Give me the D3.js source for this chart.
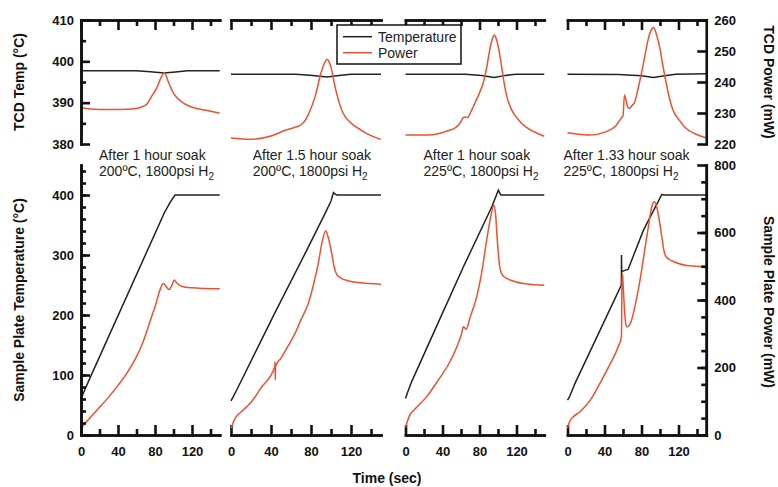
<!DOCTYPE html>
<meta charset="utf-8">
<style>
body { margin: 0; background: #fff; }
svg { font-family: "Liberation Sans", Arial, sans-serif; }
.axis .domain { stroke: #111; stroke-width: 2.6px; stroke-linecap: square; }
.axis .tick line { stroke: #111; stroke-width: 2.6px; }
.axis text { font-family: "Liberation Sans", Arial, sans-serif; font-size: 13px; font-weight: bold; fill: #111; }
.axis-title { font-size: 14px; font-weight: bold; fill: #111; }
.temp { stroke: #222; stroke-width: 1.5px; fill: none; }
.power { stroke: #ef5030; stroke-width: 1.5px; fill: none; }
.note { font-size: 14px; fill: #222; }
.legend text { font-size: 14px; fill: #222; }
</style>

<svg width="778" height="487"></svg>

<script src="https://cdn.jsdelivr.net/npm/d3@7"></script>
<script>

// soak conditions for the four runs
var soakTime = ["After 1 hour soak", "After 1.5 hour soak", "After 1 hour soak", "After 1.33 hour soak"];
var soakCond = ["200ºC, 1800psi H", "200ºC, 1800psi H", "225ºC, 1800psi H", "225ºC, 1800psi H"];
var noteT = [19.5, 21.7, 19.5, -4.3];   // where the note starts, in seconds

// TCD temperature (°C) vs time (sec)
var tcdTemp = [
  [[0,397.7],[60,397.7],[75,397.5],[90,397.2],[105,397.5],[115,397.7],[150,397.7]],
  [[0,396.9],[65,396.9],[82,396.6],[96,396.2],[108,396.6],[120,396.9],[150,396.9]],
  [[0,396.9],[65,396.9],[82,396.6],[96,396.1],[108,396.6],[120,396.9],[150,396.9]],
  [[0,396.9],[55,396.8],[65,396.7],[80,396.5],[93,396.1],[105,396.5],[117,396.9],[150,397.0]]
];

// TCD power (mW)
var tcdPower = [
  [[0,231.8],[10,231.3],[30,231.1],[55,231.3],[64,231.8],[71,232.8],[76,235.2],[81.8,238],[87,241.7],[90,243],[94.4,240.1],[100,236.4],[104,234.8],[108.8,233.6],[115,232.5],[121,231.8],[135,230.9],[148,230.1],[150,230.0]],
  [[0,221.9],[20,221.5],[40,222.6],[55,224.5],[65,225.5],[70,226.2],[75,228],[78,230],[84,235.2],[90,242.9],[94,246.5],[96,247.3],[98,246.5],[100,244.8],[104,238.5],[108,233.5],[112,230],[120,226.8],[130,224.5],[140,222.7],[150,221.5]],
  [[0,222.9],[25,222.9],[45,224.2],[55,225.5],[60,227.2],[62,228.4],[65,228.7],[67,228.5],[70,230],[75,233.2],[80,236.5],[84,239.7],[88,245],[91,250.3],[94,254],[96,255.2],[98,254],[101,250.3],[104,244.8],[107,239],[110,234.8],[114,231.5],[118,229.4],[124,227.2],[130,225.5],[140,223.8],[150,222.5]],
  [[0,223.6],[10,223.2],[24,222.9],[42,224],[52,225.8],[58,228.3],[60,229.2],[61.6,235.8],[63,234.5],[65,232],[67,231.5],[70,232.5],[72,233.1],[76,237.5],[80,242.9],[84,249],[87,253.5],[90,256.5],[93,257.6],[96,255.5],[99.5,251.4],[103,245.5],[106.7,239.6],[110,235],[114,231],[120,228],[128,225.1],[138,223.3],[148,222.2],[150,222.1]]
];

// sample plate temperature (°C)
var plateTemp = [
  [[0,58],[2,68],[10,96],[90,370],[96,387],[101.6,400],[150,400]],
  [[0,57],[2,63],[5.7,75],[44,204],[77.3,313],[94,369],[100,390],[102.5,404],[104.5,401],[106,400],[150,400]],
  [[0,61],[2,70],[6.7,89],[35,186],[62.5,280],[93.2,380],[100.4,408],[103,400],[150,400]],
  [[0,58],[2,63],[8.1,86],[35,174],[58.2,250],[58.4,300],[58.6,272],[61,274],[65.5,276],[82,341],[102,401],[104,400],[150,400]]
];

// sample plate power (mW)
var platePower = [
  [[0,18],[1.5,24],[10,52],[20,82],[30,113],[40,147],[50,185],[60,232],[66,268],[71,306],[76,348],[80,380],[85.4,430],[89,449],[92,440],[95,431],[98,442],[100.9,459],[103,452],[108.8,441],[120,436],[135,434],[150,433]],
  [[0,20],[2,35],[4,49],[10,68],[20.7,99],[30,140],[43.8,202],[44,217],[44.3,163],[44.6,204],[50,228],[57,263],[64,301],[70,342],[77.3,390],[82,440],[87.3,509],[91,570],[94.7,605],[97,588],[100.7,538],[103,500],[105.7,476],[110,465],[117,457],[130,451],[150,447]],
  [[0,22],[2,40],[4.6,59],[10,76],[22.7,113],[35,161],[48,217],[55,258],[60.7,301],[62.5,321],[64,318],[65.4,313],[70,350],[77,410],[82,475],[87.8,578],[92,645],[95.7,681],[97.5,650],[99.2,578],[101,520],[102.2,492],[105,473],[109.4,464],[118,455],[127.4,449],[149,444],[150,444]],
  [[0,20],[2,38],[6.3,54],[13.5,69],[25,105],[35,153],[45,205],[54.9,262],[58.3,291],[59,479],[59.6,470],[61,400],[62.5,340],[63.9,321],[65.5,322],[69.3,341],[74,395],[78.4,459],[83,540],[87.4,617],[91,675],[93.6,691],[96.5,676],[99,640],[101.9,588],[104,550],[105.5,533],[110,520],[114.5,514],[128.9,502],[148,499],[150,499]]
];

// tick values
var timeMinor = [20, 60, 100, 140];
var timeMajor = [0, 40, 80, 120];
var tcdTempTicks = [380, 390, 400, 410];
var tcdTempMinor = [385, 395, 405];
var tcdPowerTicks = [220, 230, 240, 250, 260];
var plateTempTicks = [0, 100, 200, 300, 400];
var platePowerTicks = [0, 200, 400, 600, 800];

var svg = d3.select("svg");

// panel horizontal extents (pixels)
var panelX = [[81, 219.75], [231, 381], [405.5, 544.25], [567.5, 706.25]];
var topY = [144, 20], botY = [435, 165];

var yTcdT = d3.scaleLinear().domain([380, 410]).range(topY);
var yTcdP = d3.scaleLinear().domain([220, 260]).range(topY);
var yPlateT = d3.scaleLinear().domain([0, 450]).range(botY);
var yPlateP = d3.scaleLinear().domain([0, 800]).range(botY);

var nolabel = function() { return ""; };

panelX.forEach(function(px, i) {
  var x = d3.scaleLinear().domain([0, 150]).range(px);

  // top panel: ticks along the top edge
  svg.append("g").attr("class", "axis").attr("transform", "translate(0," + topY[1] + ")")
    .call(d3.axisTop(x).tickValues(timeMinor).tickSize(-6).tickSizeOuter(0).tickFormat(nolabel));
  svg.append("g").attr("class", "axis").attr("transform", "translate(0," + topY[1] + ")")
    .call(d3.axisTop(x).tickValues(timeMajor).tickSize(-10).tickSizeOuter(0).tickFormat(nolabel));

  // bottom panel: time axis
  svg.append("g").attr("class", "axis").attr("transform", "translate(0," + botY[0] + ")")
    .call(d3.axisBottom(x).tickValues(timeMinor).tickSize(-6).tickSizeOuter(0).tickFormat(nolabel));
  svg.append("g").attr("class", "axis").attr("transform", "translate(0," + botY[0] + ")")
    .call(d3.axisBottom(x).tickValues(timeMajor).tickSize(-10).tickSizeOuter(0).tickPadding(12).tickFormat(d3.format("d")));

  var lineT = d3.line().x(function(d) { return x(d[0]); }).y(function(d) { return yTcdT(d[1]); });
  var lineP = d3.line().curve(d3.curveMonotoneX).x(function(d) { return x(d[0]); }).y(function(d) { return yTcdP(d[1]); });
  var lineST = d3.line().x(function(d) { return x(d[0]); }).y(function(d) { return yPlateT(d[1]); });
  var lineSP = d3.line().curve(d3.curveMonotoneX).x(function(d) { return x(d[0]); }).y(function(d) { return yPlateP(d[1]); });

  svg.append("path").attr("class", "temp").attr("d", lineT(tcdTemp[i]));
  svg.append("path").attr("class", "power").attr("d", lineP(tcdPower[i]));
  svg.append("path").attr("class", "temp").attr("d", lineST(plateTemp[i]));
  svg.append("path").attr("class", "power").attr("d", lineSP(platePower[i]));

  // soak note
  var note = svg.append("text").attr("class", "note").attr("x", x(noteT[i])).attr("y", 160);
  note.text(soakTime[i]);
  var note2 = svg.append("text").attr("class", "note").attr("x", x(noteT[i])).attr("y", 176);
  note2.append("tspan").text(soakCond[i]);
  note2.append("tspan").attr("font-size", "10px").attr("dy", 4).text("2");
});

// left axes
svg.append("g").attr("class", "axis").attr("transform", "translate(" + panelX[0][0] + ",0)")
  .call(d3.axisLeft(yTcdT).tickValues(tcdTempMinor).tickSize(-5).tickSizeOuter(0).tickFormat(nolabel));
svg.append("g").attr("class", "axis").attr("transform", "translate(" + panelX[0][0] + ",0)")
  .call(d3.axisLeft(yTcdT).tickValues(tcdTempTicks).tickSize(-9).tickSizeOuter(0).tickPadding(7));
svg.append("g").attr("class", "axis").attr("transform", "translate(" + panelX[0][0] + ",0)")
  .call(d3.axisLeft(yPlateT).tickValues(d3.range(20, 441, 20)).tickSize(-5).tickSizeOuter(0).tickFormat(nolabel));
svg.append("g").attr("class", "axis").attr("transform", "translate(" + panelX[0][0] + ",0)")
  .call(d3.axisLeft(yPlateT).tickValues(plateTempTicks).tickSize(-9).tickSizeOuter(0).tickPadding(7));

// right axes
svg.append("g").attr("class", "axis").attr("transform", "translate(" + panelX[3][1] + ",0)")
  .call(d3.axisRight(yTcdP).tickValues(tcdPowerTicks).tickSize(-9).tickSizeOuter(0).tickPadding(8));
svg.append("g").attr("class", "axis").attr("transform", "translate(" + panelX[3][1] + ",0)")
  .call(d3.axisRight(yPlateP).tickValues(d3.range(50, 800, 50)).tickSize(-5).tickSizeOuter(0).tickFormat(nolabel));
svg.append("g").attr("class", "axis").attr("transform", "translate(" + panelX[3][1] + ",0)")
  .call(d3.axisRight(yPlateP).tickValues(platePowerTicks).tickSize(-9).tickSizeOuter(0).tickPadding(8));

// axis titles
svg.append("text").attr("class", "axis-title").attr("text-anchor", "middle")
  .attr("transform", "translate(24,82) rotate(-90)").text("TCD Temp (°C)");
svg.append("text").attr("class", "axis-title").attr("text-anchor", "middle")
  .attr("transform", "translate(24,300) rotate(-90)").text("Sample Plate Temperature (°C)");
svg.append("text").attr("class", "axis-title").attr("text-anchor", "middle")
  .attr("transform", "translate(764,82) rotate(90)").text("TCD Power (mW)");
svg.append("text").attr("class", "axis-title").attr("text-anchor", "middle")
  .attr("transform", "translate(764,302) rotate(90)").text("Sample Plate Power (mW)");
svg.append("text").attr("class", "axis-title").attr("text-anchor", "middle")
  .attr("x", 387).attr("y", 483).text("Time (sec)");

// legend
var legend = svg.append("g").attr("class", "legend").attr("transform", "translate(337,25)");
legend.append("rect").attr("width", 124).attr("height", 39)
  .attr("fill", "#fff").attr("stroke", "#111").attr("stroke-width", 1.5);
legend.append("line").attr("class", "temp").attr("x1", 6).attr("x2", 35).attr("y1", 11.7).attr("y2", 11.7);
legend.append("line").attr("class", "power").attr("x1", 6).attr("x2", 35).attr("y1", 27.7).attr("y2", 27.7);
legend.append("text").attr("x", 41).attr("y", 16.5).text("Temperature");
legend.append("text").attr("x", 41).attr("y", 32.5).text("Power");

</script>
